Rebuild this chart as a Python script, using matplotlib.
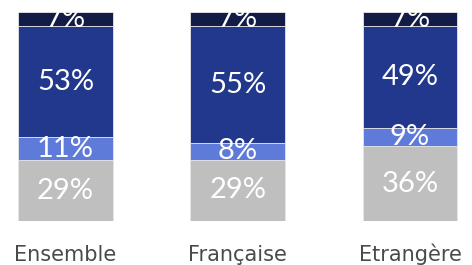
import numpy as np
import matplotlib
matplotlib.use("Agg")
import matplotlib.pyplot as plt
from matplotlib.transforms import blended_transform_factory

# =========================
# DATA
# =========================
categories = ["Ensemble", "Française", "Etrangère"]
gris = [29, 29, 36]
bleu_clair = [11, 8, 9]
bleu = [53, 55, 49]
marine = [7, 7, 7]

colors = ["#bfbfbf", "#5f7bd9", "#22388c", "#121c47"]

plt.rcParams['font.family'] = ['Lato', 'DejaVu Sans']

# =========================
# FIGURE
# =========================
fig = plt.figure(figsize=(4.72, 2.65), dpi=100)
ax = fig.add_axes([0, 44/265, 1, (265-44-11.7)/265])

series = np.array([gris, bleu_clair, bleu, marine], dtype=float)
totals = series.sum(axis=0)
pct = series / totals * 100  # 100% empilé

x = np.arange(len(categories))
bottom = np.zeros(len(categories))
for vals, raw, col in zip(pct, series, colors):
    ax.bar(x, vals, width=0.55, bottom=bottom, color=col,
           edgecolor="#e6e6e6", linewidth=0.6)
    for xi, b, v, r in zip(x, bottom, vals, raw):
        ax.text(xi, b + v/2, f"{int(r)}%", ha="center", va="center",
                color="white", fontsize=21, clip_on=True)
    bottom += vals

# libellés des catégories, alignés sur la ligne de base
trans = blended_transform_factory(ax.transData, ax.transAxes)
for xi, cat in zip(x, categories):
    ax.text(xi, -0.19, cat, transform=trans, ha="center", va="baseline",
            fontsize=15, color="#4a4a4a", family=['DejaVu Sans'])

ax.set_xlim(-0.380, 2.36)
ax.set_ylim(0, 100)
ax.set_xticks([])
ax.set_yticks([])
for s in ax.spines.values():
    s.set_visible(False)

fig.savefig("out.png", dpi=100)
